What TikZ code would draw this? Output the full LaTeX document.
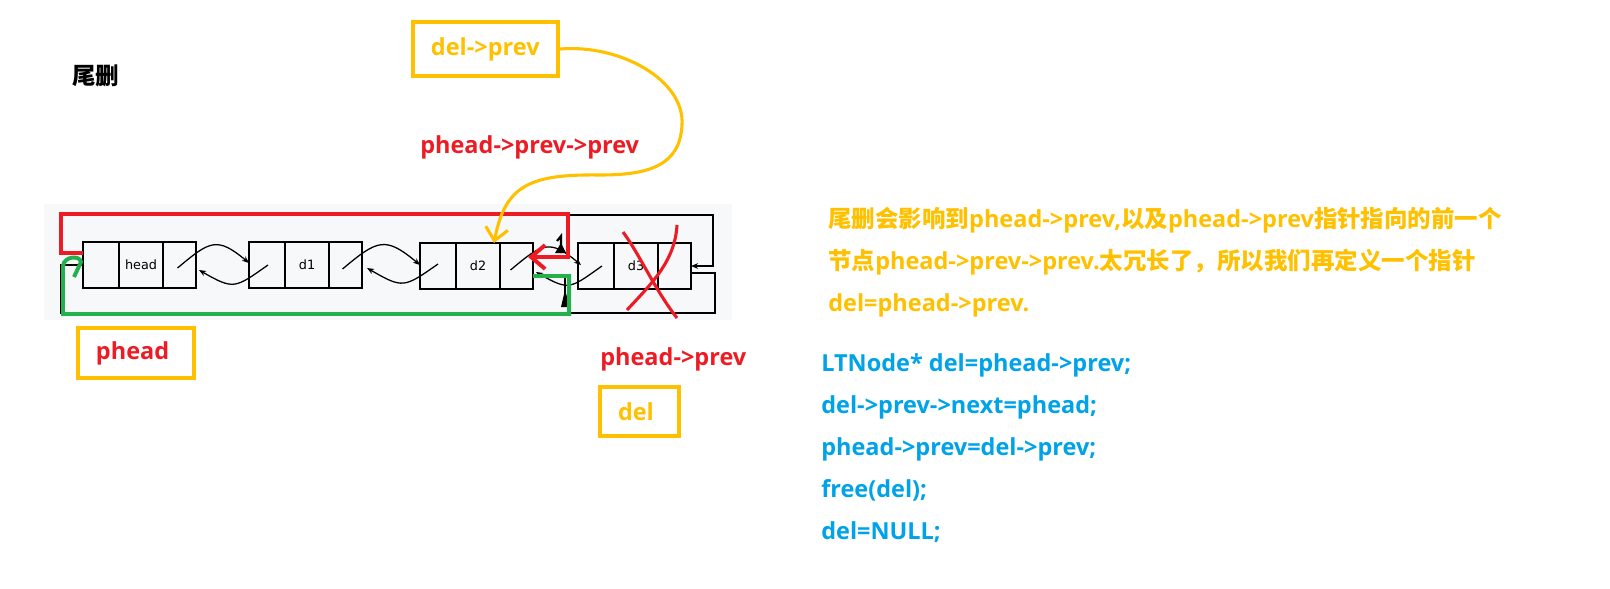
\documentclass[tikz,border=0pt]{standalone}
\usepackage{fontspec}
\setmainfont{Open Sans}
\newfontfamily\cjk{Noto Sans CJK SC}
\newfontfamily\cellfont{DejaVu Sans}
\usetikzlibrary{arrows.meta, positioning, calc}
\definecolor{penred}{RGB}{237, 28, 36}
\definecolor{pengreen}{RGB}{34, 177, 76}
\definecolor{penyellow}{RGB}{255, 192, 0}
\definecolor{codeblue}{RGB}{0, 162, 232}
\definecolor{panelgray}{RGB}{247, 248, 250}

\begin{document}
\begin{tikzpicture}[x=0.025cm, y=0.025cm,
  cell/.style={draw, line width=1.2pt, minimum height=1.15cm, outer sep=0pt, inner sep=0pt, font=\cellfont\fontsize{9.1}{11}\selectfont},
  prevc/.style={cell, minimum width=0.9cm},
  datac/.style={cell, minimum width=1.1cm},
  nextc/.style={cell, minimum width=0.825cm},
  ptr/.style={line width=0.9pt, looseness=1.5, -{Stealth[length=5pt, width=4pt]}},
  loopline/.style={line width=1.2pt},
  redpen/.style={draw=penred, line width=2.8pt},
  greenpen/.style={draw=pengreen, line width=2.8pt},
  txt/.style={inner sep=0pt, anchor=base west, font=\bfseries\fontsize{16.7}{20}\selectfont},
  ybox/.style={draw=penyellow, line width=2.8pt, inner xsep=0.45cm, inner ysep=0pt, align=left, font=\bfseries\fontsize{16.7}{20}\selectfont}]
  \useasboundingbox (0,0) rectangle (1610,-588);

  % title
  \node[txt] (title) at (72,-84) {\cjk 尾删};

  % list panel
  \fill[panelgray] (44,-204) rectangle (732,-320);

  \node[prevc] (headP) at (101,-265) {};
  \node[datac, right=0pt of headP] (headD) {head};
  \node[nextc, right=0pt of headD] (headN) {};

  \node[prevc] (d1P) at (267,-265) {};
  \node[datac, right=0pt of d1P] (d1D) {d1};
  \node[nextc, right=0pt of d1D] (d1N) {};

  \node[prevc] (d2P) at (438,-266) {};
  \node[datac, right=0pt of d2P] (d2D) {d2};
  \node[nextc, right=0pt of d2D] (d2N) {};

  \node[prevc] (d3P) at (596,-266) {};
  \node[datac, right=0pt of d3P] (d3D) {d3};
  \node[nextc, right=0pt of d3D] (d3N) {};

  % next / prev pointers
  \draw[ptr] ($(headN.center)+(-2,-3)$) to[out=40, in=140] ($(d1P.west)+(0,2)$);
  \draw[ptr] ($(d1P.center)+(1,0)$) to[out=215, in=-30] ($(headN.east)+(3,-5)$);
  \draw[ptr] ($(d1N.center)+(-3,-4)$) to[out=40, in=140] ($(d2P.west)+(0,1)$);
  \draw[ptr] ($(d2P.center)+(0,2)$) to[out=215, in=-30] ($(d1N.east)+(5,-3)$);
  \draw[ptr] ($(d2N.center)+(-6,-4)$) to[out=40, in=140] ($(d3P.west)+(3,1)$);
  \draw[ptr] ($(d3P.center)+(6,0)$) to[out=215, in=-30] ($(d2N.east)+(3,-6)$);

  % circular links
  \draw[loopline, -{Stealth[length=5pt, width=4pt]}] ($(headP.west)+(0,12)$) -- ++(-22,0) |- (713,-215) |- (d3N.east);
  \draw[loopline] ($(d3N.east)+(0,-7)$) -- ++(24,0) |- (61,-313) -- (61,-265) -- (headP.west);
  \fill (555,-253) -- (566,-253) -- (561,-243) -- cycle;
  \draw[line width=1.5pt] (561,-253) -- (561,-236) -- (557,-241);
  \fill (561,-307) -- (570,-307) -- (565,-290) -- cycle;
  \draw[line width=1.5pt] (565,-307) -- (565,-277);

  % new links
  \draw[redpen, -{Straight Barb[length=10pt, width=17pt]}] ($(headP.west)+(0,12)$) -- ++(-22,0) |- (568,-214) |- ($(d2N.east)+(-5,9)$);
  \draw[greenpen] ($(d2N.east)+(0,-10)$) -- ++(36,0) |- ($(headP.west)+(-20,-49)$) -- ($(headP.west)+(-20,-1)$)
    .. controls +(1,10) and +(-1,7) .. ($(headP.west)+(-2,3)$) -- ++(-7,-15);

  % removed node
  \draw[redpen, line width=2.2pt] (623,-232) .. controls (640,-255) and (655,-290) .. (677,-318);
  \draw[redpen, line width=2.2pt] (677,-225) .. controls (675,-262) and (650,-285) .. (627,-310);

  % labels
  \node[ybox, text=penyellow, text width=2.725cm, minimum height=1.35cm] (delprev) at (485.5,-49) {del->prev};
  \node[txt, text=penred] (pprevprev) at (420,-153) {phead->prev->prev};
  \draw[draw=penyellow, line width=2.2pt, -{Straight Barb[length=9pt, width=16pt]}] (delprev.east)
    .. controls (620,-44) and (685,-80) .. (682,-125)
    .. controls (680,-165) and (650,-175) .. (600,-175)
    .. controls (530,-174) and (505,-185) .. ($(d2D.north east)+(-6,0)$);

  \node[ybox, text=penred, text width=2.0cm, minimum height=1.25cm] (phead) at (136,-353) {phead};
  \node[txt, text=penred] (pprev) at (600,-365) {phead->prev};
  \node[ybox, text=penyellow, text width=1.075cm, minimum height=1.225cm] (del) at (639.5,-411.5) {del};

  % explanation
  \node[txt, text=penyellow] (note1) at (828,-227) {{\cjk 尾删会影响到}phead->prev,{\cjk 以及}phead->prev{\cjk 指针指向的前一个}};
  \node[txt, text=penyellow] (note2) at (828,-269) {{\cjk 节点}phead->prev->prev.{\cjk 太冗长了，所以我们再定义一个指针}};
  \node[txt, text=penyellow] (note3) at (828,-311) {del=phead->prev.};

  % code
  \foreach \line [count=\i] in {{LTNode* del=phead->prev;}, {del->prev->next=phead;}, {phead->prev=del->prev;}, {free(del);}, {del=NULL;}}
    \node[txt, text=codeblue] (code\i) at (821,{-371-42*(\i-1)}) {\line};
\end{tikzpicture}
\end{document}
